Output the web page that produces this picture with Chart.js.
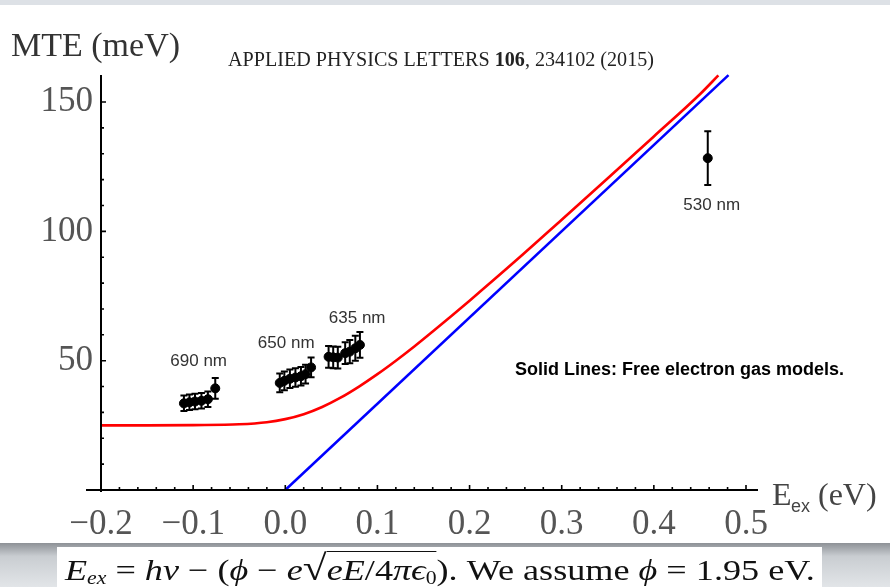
<!DOCTYPE html>
<html><head><meta charset="utf-8">
<script src="https://cdn.jsdelivr.net/npm/chart.js@4.4.1/dist/chart.umd.min.js"></script>
<style>
html,body{margin:0;padding:0;background:#fff;width:890px;height:587px;overflow:hidden;}
#c{position:absolute;left:0;top:0;}
#topbar{position:absolute;left:0;top:0;width:890px;height:5px;background:#dde1e6;}
#strip{position:absolute;left:0;top:543px;width:890px;height:44px;background:linear-gradient(#8d9196,#c9cdd1 30%,#e2e5e8);}
#box{position:absolute;left:57px;top:547px;width:765px;height:40px;background:#fff;}
#formula{position:absolute;left:65px;top:551px;font-family:"Liberation Serif",serif;font-size:30px;line-height:34px;color:#111;white-space:nowrap;transform-origin:0 0;}
.sq{border-top:1.5px solid #111;padding-top:1px;}
.rad{font-size:120%;}
sub{font-size:60%;vertical-align:-4px;line-height:0;}
</style></head>
<body>
<canvas id="c" width="890" height="587"></canvas>
<div id="topbar"></div>
<div id="strip"></div>
<div id="box"></div>
<div id="formula"><i>E</i><sub><i>ex</i></sub> = <i>hν</i> − (<i>ϕ</i> − <i>e</i><span class="rad">√</span><span class="sq"><i>eE</i>/4<i>π</i><i>ϵ</i><sub>0</sub></span>). We assume <i>ϕ</i> = 1.95 eV.</div>
<script>
// ---- data ----
const redX = [-0.2,-0.15,-0.1,-0.05,-0.02,0,0.02,0.04,0.06,0.08,0.1,0.12,0.14,0.16,0.18,0.2,0.25,0.3,0.35,0.4,0.45,0.47];
const redY = [25.0,25.0,25.1,25.4,26.2,27.4,29.3,32.1,35.7,40.0,44.8,50.0,55.5,61.3,67.2,73.2,88.6,104.5,120.5,136.7,153.0,160.3];
const blueX = [0, 0.481];
const blueY = [0, 160.4];

const x690 = [-0.110,-0.104,-0.098,-0.091,-0.084,-0.076];
const y690 = [33.5,33.9,34.2,34.5,35.1,39.3];
const e690 = [3.0,3.0,3.0,3.0,3.0,4.0];

const x650 = [-0.006,-0.001,0.005,0.011,0.017,0.022,0.028];
const y650 = [41.4,42.2,43.0,43.5,44.0,44.8,47.4];
const e650 = [3.6,3.6,3.6,3.6,3.6,3.6,3.8];

const x635 = [0.047,0.052,0.057,0.065,0.070,0.076,0.081];
const y635 = [51.5,51.3,51.2,52.9,53.5,54.8,56.1];
const e635 = [4.2,4.2,4.2,4.2,4.5,4.8,5.0];

const x530 = [0.4585];
const y530 = [128.3];
const e530 = [10.4];

const xTicks = [-0.2,-0.1,0,0.1,0.2,0.3,0.4,0.5];
const xMinor = [-0.18,-0.16,-0.14,-0.12,-0.08,-0.06,-0.04,-0.02,0.02,0.04,0.06,0.08,0.12,0.14,0.16,0.18,0.22,0.24,0.26,0.28,0.32,0.34,0.36,0.38,0.42,0.44,0.46,0.48];
const yTicks = [50,100,150];
const yMinor = [10,20,30,40,60,70,80,90,110,120,130,140];

const notes = [
  {text:'690 nm', x:-0.094, y:49.9},
  {text:'650 nm', x:0.001, y:56.8},
  {text:'635 nm', x:0.078, y:66.5},
  {text:'530 nm', x:0.4628, y:110.2}
];

const pts = (xs, ys) => xs.map((v,i)=>({x:v, y:ys[i]}));

const decor = {
  id:'decor',
  beforeDatasetsDraw(chart){
    const {ctx, scales:{x,y}} = chart;
    ctx.save();
    ctx.strokeStyle = '#000'; ctx.lineWidth = 2;
    chart.data.datasets.forEach(ds=>{
      if(!ds.errors) return;
      ds.data.forEach((p,j)=>{
        const e = ds.errors[j];
        const px = x.getPixelForValue(p.x);
        const t = y.getPixelForValue(p.y+e), b = y.getPixelForValue(p.y-e);
        ctx.beginPath();
        ctx.moveTo(px,t); ctx.lineTo(px,b);
        ctx.moveTo(px-3.5,t); ctx.lineTo(px+3.5,t);
        ctx.moveTo(px-3.5,b); ctx.lineTo(px+3.5,b);
        ctx.stroke();
      });
    });
    ctx.restore();
  },
  afterDraw(chart){
    const {ctx, scales:{x,y}} = chart;
    ctx.save();
    const x0 = x.getPixelForValue(-0.2), x1 = x.getPixelForValue(0.5);
    const y0 = y.getPixelForValue(0), yTop = y.getPixelForValue(160.5);
    ctx.strokeStyle = '#000';
    ctx.lineWidth = 2;
    ctx.beginPath();
    ctx.moveTo(x0-15, y0); ctx.lineTo(x1+12, y0);
    ctx.moveTo(x0, y0+2); ctx.lineTo(x0, yTop);
    ctx.stroke();
    ctx.lineWidth = 1.6;
    ctx.beginPath();
    xTicks.forEach(v=>{const p=x.getPixelForValue(v); ctx.moveTo(p,y0); ctx.lineTo(p,y0-5);});
    xMinor.forEach(v=>{const p=x.getPixelForValue(v); ctx.moveTo(p,y0); ctx.lineTo(p,y0-3);});
    yTicks.forEach(v=>{const p=y.getPixelForValue(v); ctx.moveTo(x0,p); ctx.lineTo(x0+5,p);});
    yMinor.forEach(v=>{const p=y.getPixelForValue(v); ctx.moveTo(x0,p); ctx.lineTo(x0+3,p);});
    ctx.stroke();

    // annotations
    ctx.fillStyle = '#333';
    ctx.font = '17px "Liberation Sans", Arial, sans-serif';
    ctx.textAlign = 'center'; ctx.textBaseline = 'middle';
    notes.forEach(n=>ctx.fillText(n.text, x.getPixelForValue(n.x), y.getPixelForValue(n.y)));
    ctx.fillStyle = '#000';
    ctx.font = 'bold 18px "Liberation Sans", Arial, sans-serif';
    ctx.textAlign = 'left';
    ctx.fillText('Solid Lines: Free electron gas models.', 515, 370, 332);

    // axis titles
    ctx.fillStyle = '#333';
    ctx.textBaseline = 'alphabetic';
    ctx.font = '34px "Liberation Serif", serif';
    ctx.fillText('MTE (meV)', 11, 56, 178);
    ctx.fillStyle = '#444';
    ctx.font = '32px "Liberation Serif", serif';
    ctx.fillText('E', 772, 505);
    ctx.font = '18px "Liberation Sans", sans-serif';
    ctx.fillText('ex', 791, 512);
    ctx.font = '32px "Liberation Serif", serif';
    ctx.fillText('(eV)', 818, 505, 68);

    // journal header
    const parts = [['APPLIED PHYSICS LETTERS ','normal'],['106','bold'],[', 234102 (2015)','normal']];
    let total = 0;
    parts.forEach(p=>{ctx.font = p[1]+' 20px "Liberation Serif", serif'; total += ctx.measureText(p[0]).width;});
    const sx = 426/total;
    ctx.translate(228, 66); ctx.scale(sx,1);
    let cx = 0;
    ctx.fillStyle = '#222';
    parts.forEach(p=>{ctx.font = p[1]+' 20px "Liberation Serif", serif'; ctx.fillText(p[0], cx, 0); cx += ctx.measureText(p[0]).width;});
    ctx.restore();
  }
};

new Chart(document.getElementById('c'), {
  type:'scatter',
  data:{datasets:[
    {data:pts(blueX,blueY), showLine:true, borderColor:'#0000ff', borderWidth:2.6, pointRadius:0},
    {data:pts(redX,redY), showLine:true, borderColor:'#ff0000', borderWidth:2.6, pointRadius:0, cubicInterpolationMode:'monotone'},
    {data:pts(x690,y690), errors:e690, backgroundColor:'#000', borderColor:'#000', pointRadius:4.5},
    {data:pts(x650,y650), errors:e650, backgroundColor:'#000', borderColor:'#000', pointRadius:4.5},
    {data:pts(x635,y635), errors:e635, backgroundColor:'#000', borderColor:'#000', pointRadius:4.5},
    {data:pts(x530,y530), errors:e530, backgroundColor:'#000', borderColor:'#000', pointRadius:4.5}
  ]},
  options:{
    responsive:false, animation:false, devicePixelRatio:1,
    layout:{padding:{top:71,left:0,right:144,bottom:0}},
    plugins:{legend:{display:false}, tooltip:{enabled:false}},
    scales:{
      x:{type:'linear', min:-0.2, max:0.5,
        afterBuildTicks:s=>{s.ticks = xTicks.map(v=>({value:v}));},
        afterFit:s=>{s.height = 97;},
        grid:{display:false}, border:{display:false},
        ticks:{autoSkip:false, maxRotation:0, padding:6, color:'#555',
          font:{family:'"Liberation Serif", serif', size:35},
          callback:v=>{const t=Number(v).toFixed(1); return t.replace('-','\u2212');}}
      },
      y:{type:'linear', min:0, max:162,
        afterBuildTicks:s=>{s.ticks = yTicks.map(v=>({value:v}));},
        afterFit:s=>{s.width = 101;},
        grid:{display:false}, border:{display:false},
        ticks:{autoSkip:false, padding:0, color:'#555',
          font:{family:'"Liberation Serif", serif', size:35},
          callback:v=>String(v)}
      }
    }
  },
  plugins:[decor]
});
const f = document.getElementById('formula');
const sc = 750 / f.offsetWidth;
f.style.transform = 'scaleX(' + sc + ')';
</script>
</body></html>
